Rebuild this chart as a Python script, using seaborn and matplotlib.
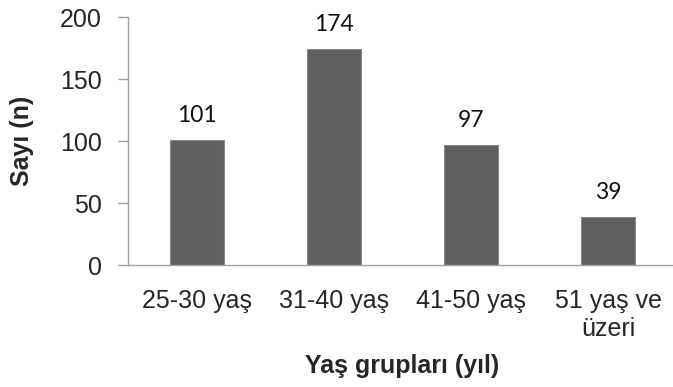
import matplotlib
matplotlib.use("Agg")
import matplotlib.pyplot as plt
import seaborn as sns
import pandas as pd
import numpy as np

# --- datos ---
gruplar = ['25-30 yaş', '31-40 yaş', '41-50 yaş', '51 yaş ve\nüzeri']
sayilar = [101, 174, 97, 39]

df = pd.DataFrame({'grup': gruplar, 'n': sayilar})

sns.set_style("white")
plt.rcParams['font.family'] = ['Liberation Sans', 'DejaVu Sans']

fig = plt.figure(figsize=(6.73, 3.87), dpi=100)
# el eje se extiende un poco más allá del borde derecho, como en el original
ax = fig.add_axes([0.1902, 0.314, 0.8157, 0.642])

sns.barplot(data=df, x='grup', y='n', color='#606060', width=0.395,
            saturation=1, ax=ax, edgecolor='#8a8a8a', linewidth=0.8)

# etiquetas de valor encima de las barras
for i, v in enumerate(sayilar):
    ax.text(i, v + 14.5, str(v), ha='center', va='baseline', fontsize=16.5,
            family=['Lato', 'DejaVu Sans'], color='#111111')

ax.set_ylim(0, 200)
ax.set_yticks([0, 50, 100, 150, 200])
ax.set_xlim(-0.5, len(gruplar) - 0.5)

# marcas en los límites de categoría
ax.set_xticks(np.arange(-0.5, len(gruplar), 1.0), minor=True)
ax.tick_params(axis='x', which='major', length=0, pad=17, labelsize=18)
ax.tick_params(axis='x', which='minor', length=7, color='#a0a0a0', width=1)
ax.tick_params(axis='y', which='major', length=7, color='#a0a0a0', width=1,
               labelsize=18, pad=12, left=True)

for s in ['top', 'right']:
    ax.spines[s].set_visible(False)
for s in ['left', 'bottom']:
    ax.spines[s].set_color('#a0a0a0')
    ax.spines[s].set_linewidth(1)

ax.set_xlabel('Yaş grupları (yıl)', fontsize=18, fontweight='bold', va='center')
ax.xaxis.set_label_coords(0.5, -0.405)
ax.set_ylabel('Sayı (n)', fontsize=18, fontweight='bold', va='center')
ax.yaxis.set_label_coords(-0.193, 0.5)

plt.savefig('out.png', dpi=100)
plt.close()
